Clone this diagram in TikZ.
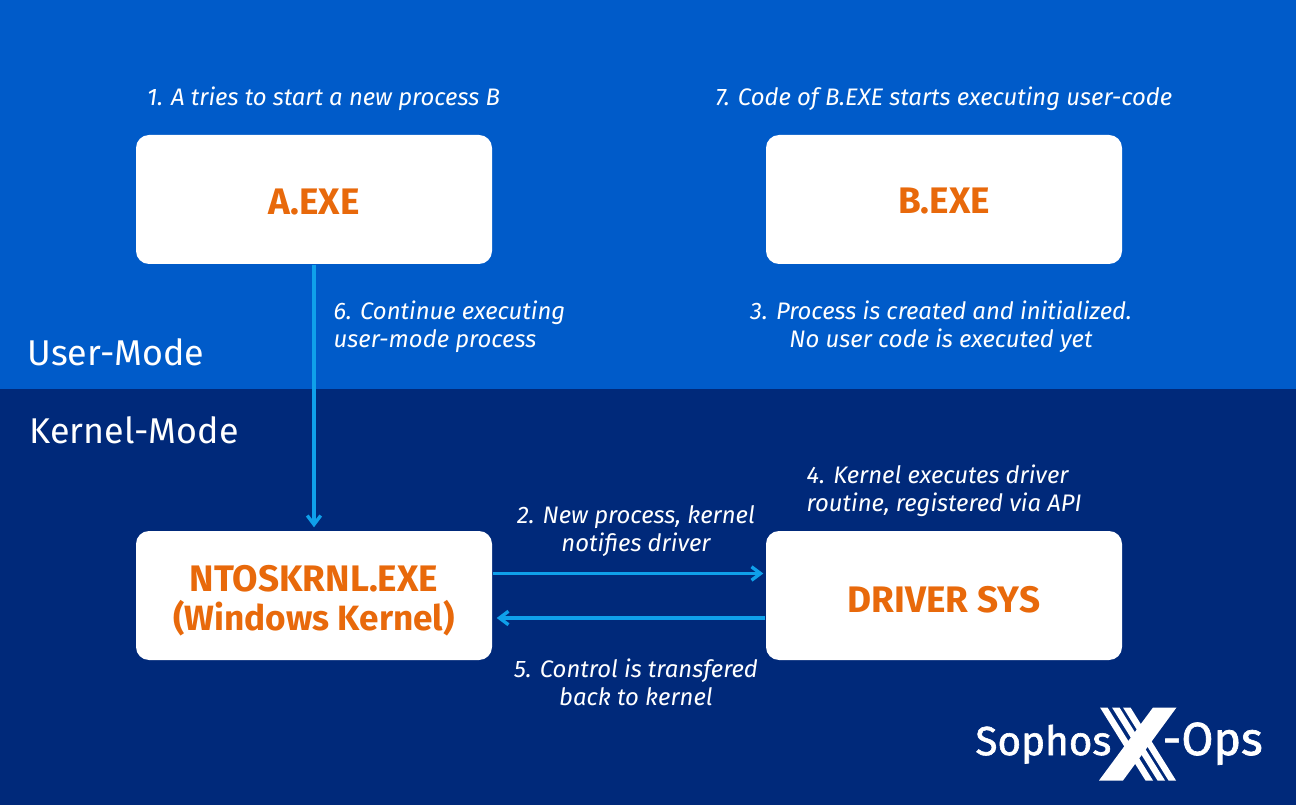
\documentclass[tikz,border=0pt]{standalone}
\usepackage{fontspec}
\setmainfont{Fira Sans}
\newfontfamily\logofont[FakeBold=1.5]{Fira Sans}
\usepackage{xcolor}
\usetikzlibrary{arrows.meta}

\definecolor{userblue}{HTML}{005BC9}
\definecolor{kernelblue}{HTML}{00297A}
\definecolor{procorange}{HTML}{E8690B}
\definecolor{flowblue}{HTML}{0FA0EA}

\begin{document}
\begin{tikzpicture}[
	procbox/.style={rectangle, rounded corners=1.3mm, fill=white, minimum width=3.56cm, minimum height=1.29cm, inner sep=0pt, align=center, text=procorange, font=\fontsize{10.5}{11}\selectfont\bfseries},
	steplabel/.style={text=white, align=center, inner sep=0pt, font=\fontsize{6.8}{8}\selectfont\itshape},
	modelabel/.style={text=white, inner sep=0pt, anchor=west, font=\fontsize{10.2}{12}\selectfont},
	logotext/.style={text=white, inner sep=0pt, font=\logofont},
	flow/.style={draw=flowblue, line width=0.95pt, -{Straight Barb[length=0.9mm, width=1.35mm, line width=0.95pt]}},
	]
	\useasboundingbox (0,0) rectangle (12.96,8.05);
	\fill[userblue] (0,4.16) rectangle (12.96,8.05);
	\fill[kernelblue] (0,0) rectangle (12.96,4.16);
	
	% boxes
	\node[procbox, text height=0.3cm] (aexe) at (3.14,6.055) {A.EXE};
	\node[procbox, text height=0.29cm] (bexe) at (9.44,6.055) {B.EXE};
	\node[procbox] (ntos) at (3.14,2.095) {\rule{0pt}{0.36cm}NTOSKRNL.EXE\\{\fontsize{10}{11}\selectfont(Windows Kernel)}};
	\node[procbox, text height=0.35cm] (driver) at (9.44,2.095) {DRIVER SYS};
	
	% mode labels
	\node[modelabel] (user) at (0.27,4.53) {User-Mode};
	\node[modelabel] (kernel) at (0.29,3.75) {Kernel-Mode};
	
	% step labels
	\node[steplabel] (s1) at (3.235,7.06) {1. A tries to start a new process B};
	\node[steplabel] (s7) at (9.44,7.06) {7. Code of B.EXE starts executing user-code};
	\node[steplabel, align=left, anchor=west] (s6) at (3.33,4.78) {6. Continue executing\\user-mode process};
	\node[steplabel] (s3) at (9.41,4.78) {3. Process is created and initialized.\\No user code is executed yet};
	\node[steplabel, align=left, anchor=west] (s4) at (8.06,3.14) {4. Kernel executes driver\\routine, registered via API};
	\node[steplabel] (s2) at (6.36,2.74) {2. New process, kernel\\notifies driver};
	\node[steplabel] (s5) at (6.36,1.23) {5. Control is transfered\\back to kernel};
	
	% arrows
	\draw[flow, shorten >=0.03cm] (aexe) -- (ntos);
	\draw[flow, shorten >=0.02cm] ([yshift=0.22cm]ntos.east) -- ([yshift=0.22cm]driver.west);
	\draw[flow, shorten >=0.04cm] ([yshift=-0.225cm]driver.west) -- ([yshift=-0.225cm]ntos.east);
	
	% logo
	\node[logotext, anchor=base east, font=\logofont\fontsize{11.5}{14}\selectfont] (sophos) at (11.12,0.5) {Sophos};
	\node[logotext, anchor=base west, font=\logofont\fontsize{13.2}{14}\selectfont] (ops) at (11.62,0.5) {-Ops};
	\fill[white] (11.53,0.975) -- (11.765,0.975) -- (11.23,0.245) -- (10.99,0.245) -- cycle;
	\foreach \x in {11.00,11.12,11.23}
		\fill[white] (\x,0.975) -- (\x+0.075,0.975) -- (\x+0.53,0.245) -- (\x+0.455,0.245) -- cycle;
\end{tikzpicture}
\end{document}
